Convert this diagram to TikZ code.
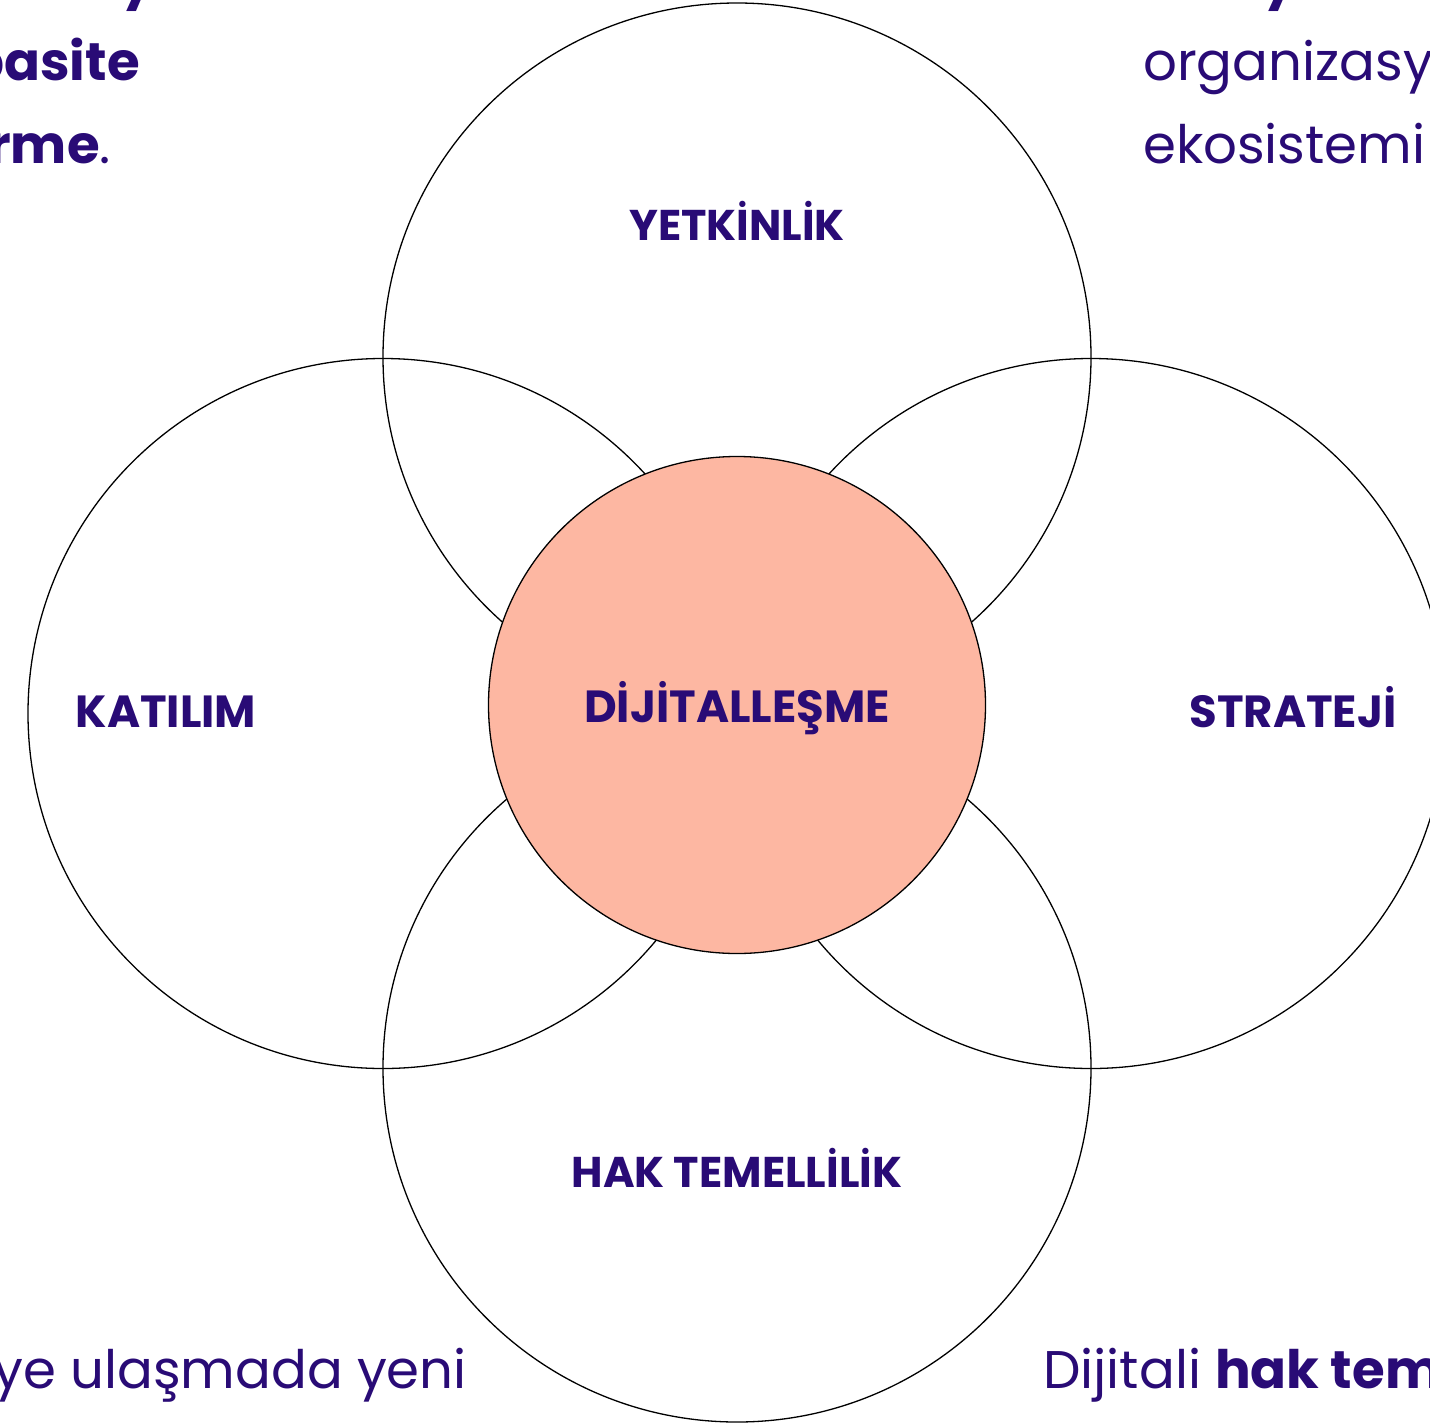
\documentclass[tikz,border=0pt]{standalone}
\usepackage{fontspec}
\setmainfont{Poppins}
\definecolor{ink}{HTML}{290B76}
\definecolor{salmon}{HTML}{FDB7A2}
\begin{document}
\begin{tikzpicture}[x=1pt,y=-1pt,
  ring/.style={draw=black,line width=1.3pt},
  lbl/.style={text=ink,font=\fontsize{45}{54}\selectfont\bfseries,inner sep=0pt,anchor=base},
  lbls/.style={lbl,font=\fontsize{43}{52}\selectfont\bfseries},
  body/.style={text=ink,font=\fontsize{53}{64}\selectfont,inner sep=0pt}]
\useasboundingbox (0,0) rectangle (1430,1427);
\clip (0,0) rectangle (1430,1427);
\fill[white] (0,0) rectangle (1430,1427);
% outer circles
\node[ring,circle,minimum size=708pt,inner sep=0pt] (top) at (737,357) {};
\node[ring,circle,minimum size=710pt,inner sep=0pt] (left) at (383,713.5) {};
\node[ring,circle,minimum size=710pt,inner sep=0pt] (right) at (1091,713.5) {};
\node[ring,circle,minimum size=708pt,inner sep=0pt] (bottom) at (737,1068) {};
% centre circle
\node[ring,circle,fill=salmon,minimum size=497pt,inner sep=0pt] (centre) at (737,705) {};
% labels
\node[lbls] (lyet) at (737,240) {YETKİNLİK};
\node[lbl] (lkat) at (166,727) {KATILIM};
\node[lbl] (lstr) at (1293,727) {STRATEJİ};
\node[lbl] (ldij) at (737,722) {DİJİTALLEŞME};
\node[lbls] (lhak) at (737,1187) {HAK TEMELLİLİK};
% corner texts
\node[body,anchor=base] (tlfrag) at (138,-3) {\bfseries y};
\node[body,anchor=base east] (tl1) at (140,80) {\bfseries basite};
\node[body,anchor=base east] (tl2) at (111,163) {\textbf{rme}.};
\node[body,anchor=base] (trfrag) at (1280,-3) {\bfseries y};
\node[body,anchor=base west] (tr1) at (1143,80) {organizasy};
\node[body,anchor=base west] (tr2) at (1143,163) {ekosistemi};
\node[body,anchor=base east] (bl) at (467,1388) {ye ulaşmada yeni};
\node[body,anchor=base west] (br) at (1043,1388) {Dijitali \textbf{hak tem}};
\end{tikzpicture}
\end{document}
